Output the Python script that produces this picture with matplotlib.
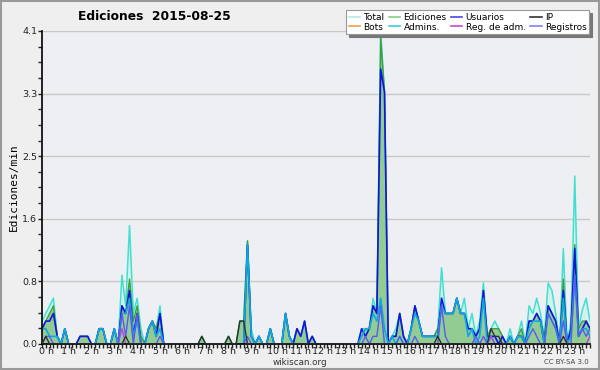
import numpy as np
import matplotlib
matplotlib.use("Agg")
import matplotlib.pyplot as plt
import matplotlib.transforms as mtransforms
from matplotlib.lines import Line2D
from matplotlib.ticker import MultipleLocator, FixedLocator, FuncFormatter

# edits per minute, one value per 10 minutes (00:00 ... 24:00)
total = [
    .3, .4, .5, .6, .1, 0,   .2, 0, 0, 0, .1, .1,   .1, 0, 0, .2, .2, 0,
    0, .2, 0, .9, .5, 1.55,  .4, .6, .2, 0, .2, .3,   .2, .5, 0, 0, 0, 0,
    0, 0, 0, 0, 0, 0,        .1, 0, 0, 0, 0, 0,       0, .1, 0, 0, .3, .3,
    1.35, .2, 0, .1, 0, 0,   .2, 0, 0, 0, .4, .1,     0, .2, .1, .3, 0, .1,
    0, 0, 0, 0, 0, 0,        0, 0, 0, 0, 0, 0,        .2, .2, .2, .6, .4, 4.1,
    3.3, 0, .1, .2, .4, .1,  0, .2, .5, .3, .1, .1,   .1, .1, .2, 1.0, .4, .4,
    .4, .6, .4, .6, .2, .4,  .1, .3, .8, .1, .2, .3,  .2, .1, 0, .2, 0, .1,
    .3, 0, .5, .4, .6, .4,   .1, .8, .7, .4, 0, 1.25, 0, .3, 2.2, .2, .45, .6,
    .3,
]
ediciones = [
    .2, .3, .4, .5, .1, 0,   .2, 0, 0, 0, .1, .1,   .1, 0, 0, .2, .2, 0,
    0, .2, 0, .5, .4, .85,   .3, .5, .1, 0, .2, .3,   .2, .4, 0, 0, 0, 0,
    0, 0, 0, 0, 0, 0,        .1, 0, 0, 0, 0, 0,       0, .1, 0, 0, .3, .3,
    1.35, .1, 0, .1, 0, 0,   .2, 0, 0, 0, .4, .1,     0, .2, .1, .3, 0, .1,
    0, 0, 0, 0, 0, 0,        0, 0, 0, 0, 0, 0,        .1, .2, .2, .5, .4, 4.0,
    3.3, 0, .1, .1, .4, .1,  0, .2, .5, .3, .1, .1,   .1, .1, .2, .5, .4, .4,
    .4, .6, .4, .4, .2, .2,  .1, .2, .7, .1, .2, .2,  .2, .1, 0, .1, 0, .1,
    .2, 0, .3, .3, .4, .3,   .1, .5, .4, .3, 0, .85,  0, .2, 1.3, .2, .3, .3,
    .2,
]
usuarios = [
    .2, .3, .3, .4, .1, 0,   .2, 0, 0, 0, .1, .1,   .1, 0, 0, .2, .2, 0,
    0, .2, 0, .5, .4, .7,    .1, .4, 0, 0, .2, .3,    .1, .4, 0, 0, 0, 0,
    0, 0, 0, 0, 0, 0,        0, 0, 0, 0, 0, 0,        0, 0, 0, 0, 0, 0,
    1.3, .1, 0, .1, 0, 0,    .2, 0, 0, 0, .4, .1,     0, .2, .1, .3, 0, .1,
    0, 0, 0, 0, 0, 0,        0, 0, 0, 0, 0, 0,        .2, .1, .2, .5, .4, 3.6,
    3.3, 0, .1, .1, .4, .1,  0, .2, .5, .3, .1, .1,   .1, .1, .1, .6, .4, .4,
    .4, .6, .4, .4, .2, .2,  .1, .2, .7, .1, .1, .1,  0, .1, 0, .1, 0, .1,
    .1, 0, .3, .3, .4, .3,   0, .5, .4, .3, 0, .7,    0, .2, 1.25, .1, .2, .3,
    .2,
]
admins = [
    .2, .2, .1, .1, .1, 0,   .2, 0, 0, 0, 0, 0,     0, 0, 0, .2, .2, 0,
    0, .2, 0, .4, .4, .6,    .1, .3, 0, 0, .2, .3,    .1, .2, 0, 0, 0, 0,
    0, 0, 0, 0, 0, 0,        0, 0, 0, 0, 0, 0,        0, 0, 0, 0, 0, 0,
    1.3, .1, 0, .1, 0, 0,    .2, 0, 0, 0, .4, .1,     0, 0, 0, 0, 0, 0,
    0, 0, 0, 0, 0, 0,        0, 0, 0, 0, 0, 0,        .1, .2, .2, .4, .3, .6,
    .2, 0, .1, 0, .1, 0,     0, .2, .4, .3, .1, .1,   .1, .1, .1, .5, .4, .4,
    .4, .6, .4, .4, .1, .2,  0, .1, .6, 0, .1, 0,     0, 0, 0, .1, 0, .1,
    .1, 0, .2, .3, .3, .3,   0, .4, .3, .2, 0, .6,    0, .1, .9, .1, .2, .2,
    .1,
]
registros = [
    0, .1, .1, 0, 0, 0,      0, 0, 0, 0, 0, 0,      0, 0, 0, 0, 0, 0,
    0, 0, 0, .4, .1, .5,     0, .4, 0, 0, 0, 0,       0, .1, 0, 0, 0, 0,
    0, 0, 0, 0, 0, 0,        0, 0, 0, 0, 0, 0,        0, 0, 0, 0, 0, 0,
    .1, 0, 0, 0, 0, 0,       0, 0, 0, 0, 0, 0,        0, 0, 0, 0, 0, 0,
    0, 0, 0, 0, 0, 0,        0, 0, 0, 0, 0, 0,        0, .1, 0, .1, .1, .5,
    0, 0, 0, 0, .1, 0,       0, 0, .1, 0, 0, 0,       0, 0, 0, .5, .1, 0,
    0, 0, 0, 0, 0, 0,        .1, 0, .1, 0, 0, 0,      0, 0, 0, 0, 0, 0,
    0, 0, .1, .2, .1, 0,     0, .4, .3, .2, 0, .3,    0, 0, .9, .1, .2, .1,
    .2,
]
ip = [
    0, .1, 0, 0, 0, 0,       0, 0, 0, 0, 0, 0,      0, 0, 0, 0, 0, 0,
    0, 0, 0, 0, .1, 0,       0, 0, 0, 0, 0, 0,        0, 0, 0, 0, 0, 0,
    0, 0, 0, 0, 0, 0,        .1, 0, 0, 0, 0, 0,       0, .1, 0, 0, .3, .3,
    0, 0, 0, 0, 0, 0,        0, 0, 0, 0, 0, 0,        0, 0, 0, 0, 0, 0,
    0, 0, 0, 0, 0, 0,        0, 0, 0, 0, 0, 0,        0, 0, 0, 0, 0, 0,
    0, 0, 0, 0, 0, 0,        0, 0, 0, 0, 0, 0,        0, 0, .1, 0, 0, 0,
    0, 0, 0, 0, 0, 0,        0, 0, 0, 0, .2, .1,      .1, 0, 0, 0, 0, 0,
    0, 0, 0, 0, 0, 0,        0, 0, 0, 0, 0, .1,       0, 0, 0, 0, 0, 0,
    0,
]
reg_adm = [0] * 145
reg_adm[21] = .2
reg_adm[118] = .1
reg_adm[144] = .1
bots = [0] * 145

hours = np.arange(len(total)) / 6.0
hour_labels = ["%d h" % h for h in range(24)]
ymax = 4.1

fig = plt.figure(figsize=(6, 3.7), dpi=100, facecolor="#efefef")
ax = fig.add_axes([0.07, 0.0703, 0.9133, 0.846])
ax.set_facecolor("#eeeff2")

ax.fill_between(hours, 0, total, color="#d3f2ec", lw=0, zorder=1)
ax.fill_between(hours, 0, ediciones, color="#93cc93", lw=0, zorder=1.1)
ax.plot(hours, total, color="#40e0d0", lw=1.1, zorder=2)
ax.plot(hours, ediciones, color="#3e9e3e", lw=1.0, zorder=2.1)
ax.plot(hours, bots, color="#f0a040", lw=1.0, zorder=1.5)
ax.plot(hours, usuarios, color="#1414e0", lw=1.2, zorder=2.2)
ax.plot(hours, admins, color="#10a8e0", lw=1.2, zorder=2.3)
ax.plot(hours, reg_adm, color="#c040e0", lw=1.0, zorder=2.4)
ax.plot(hours, registros, color="#5a5af0", lw=1.0, zorder=2.5)
ax.plot(hours, ip, color="#303030", lw=1.0, zorder=2.6)

ax.set_xlim(0, 24)
ax.set_ylim(0, ymax)
for s in ["top", "right"]:
    ax.spines[s].set_visible(False)
ax.spines["left"].set_linewidth(1.2)
ax.spines["bottom"].set_linewidth(1.2)

ax.xaxis.set_major_locator(FixedLocator(range(24)))
ax.xaxis.set_minor_locator(MultipleLocator(1 / 6.0))
ax.set_xticklabels(hour_labels)
ax.yaxis.set_major_locator(FixedLocator(np.linspace(0, ymax, 6)))
ax.yaxis.set_minor_locator(MultipleLocator(ymax / 20))
ax.yaxis.set_major_formatter(FuncFormatter(lambda v, p: "%.1f" % v))
ax.tick_params(axis="both", which="both", direction="out", length=3,
               width=1, labelsize=6.8, colors="#222222", pad=0.5)
ax.grid(axis="y", which="major", color="#c8c8c8", lw=1)
ax.set_axisbelow(True)

off = mtransforms.ScaledTranslation(-3.5 / 100, 1.5 / 100, fig.dpi_scale_trans)
for lab in ax.get_xticklabels():
    lab.set_horizontalalignment("left")
    lab.set_transform(lab.get_transform() + off)

ax.set_ylabel("Ediciones/min", fontsize=8, family="DejaVu Sans Mono", labelpad=2)
fig.text(0.257, 0.955, "Ediciones  2015-08-25", fontsize=8.8,
         fontweight="bold", ha="center", va="center")
fig.text(0.5, 0.021, "wikiscan.org", fontsize=6.3, ha="center", va="center",
         color="#333333")
fig.text(0.982, 0.021, "CC BY-SA 3.0", fontsize=5, ha="right", va="center",
         color="#444444")

names = ["Total", "Bots", "Ediciones", "Admins.", "Usuarios", "Reg. de adm.",
         "IP", "Registros"]
colors = ["#b0ece4", "#f0a040", "#88d088", "#40c8e0", "#4848e0", "#cc44dd",
          "#333333", "#8080f0"]
handles = [Line2D([], [], color=c, lw=1.2) for c in colors]
leg = fig.legend(handles, names, ncol=4, loc="upper right",
                 bbox_to_anchor=(0.982, 0.972), fontsize=6.5, frameon=True,
                 fancybox=False, shadow={"color": "#777777", "alpha": 1},
                 handlelength=1.3, handletextpad=0.35, columnspacing=0.45,
                 labelspacing=0.05, borderpad=0.3, borderaxespad=0)
leg.get_frame().set_facecolor("white")
leg.get_frame().set_edgecolor("#999999")
leg.get_frame().set_linewidth(0.8)

fig.patches.append(plt.Rectangle((0.002, 0.003), 0.996, 0.994, fill=False,
                                 edgecolor="#999999", lw=1.5,
                                 transform=fig.transFigure, figure=fig))

fig.savefig("out.png", dpi=100, facecolor=fig.get_facecolor())
